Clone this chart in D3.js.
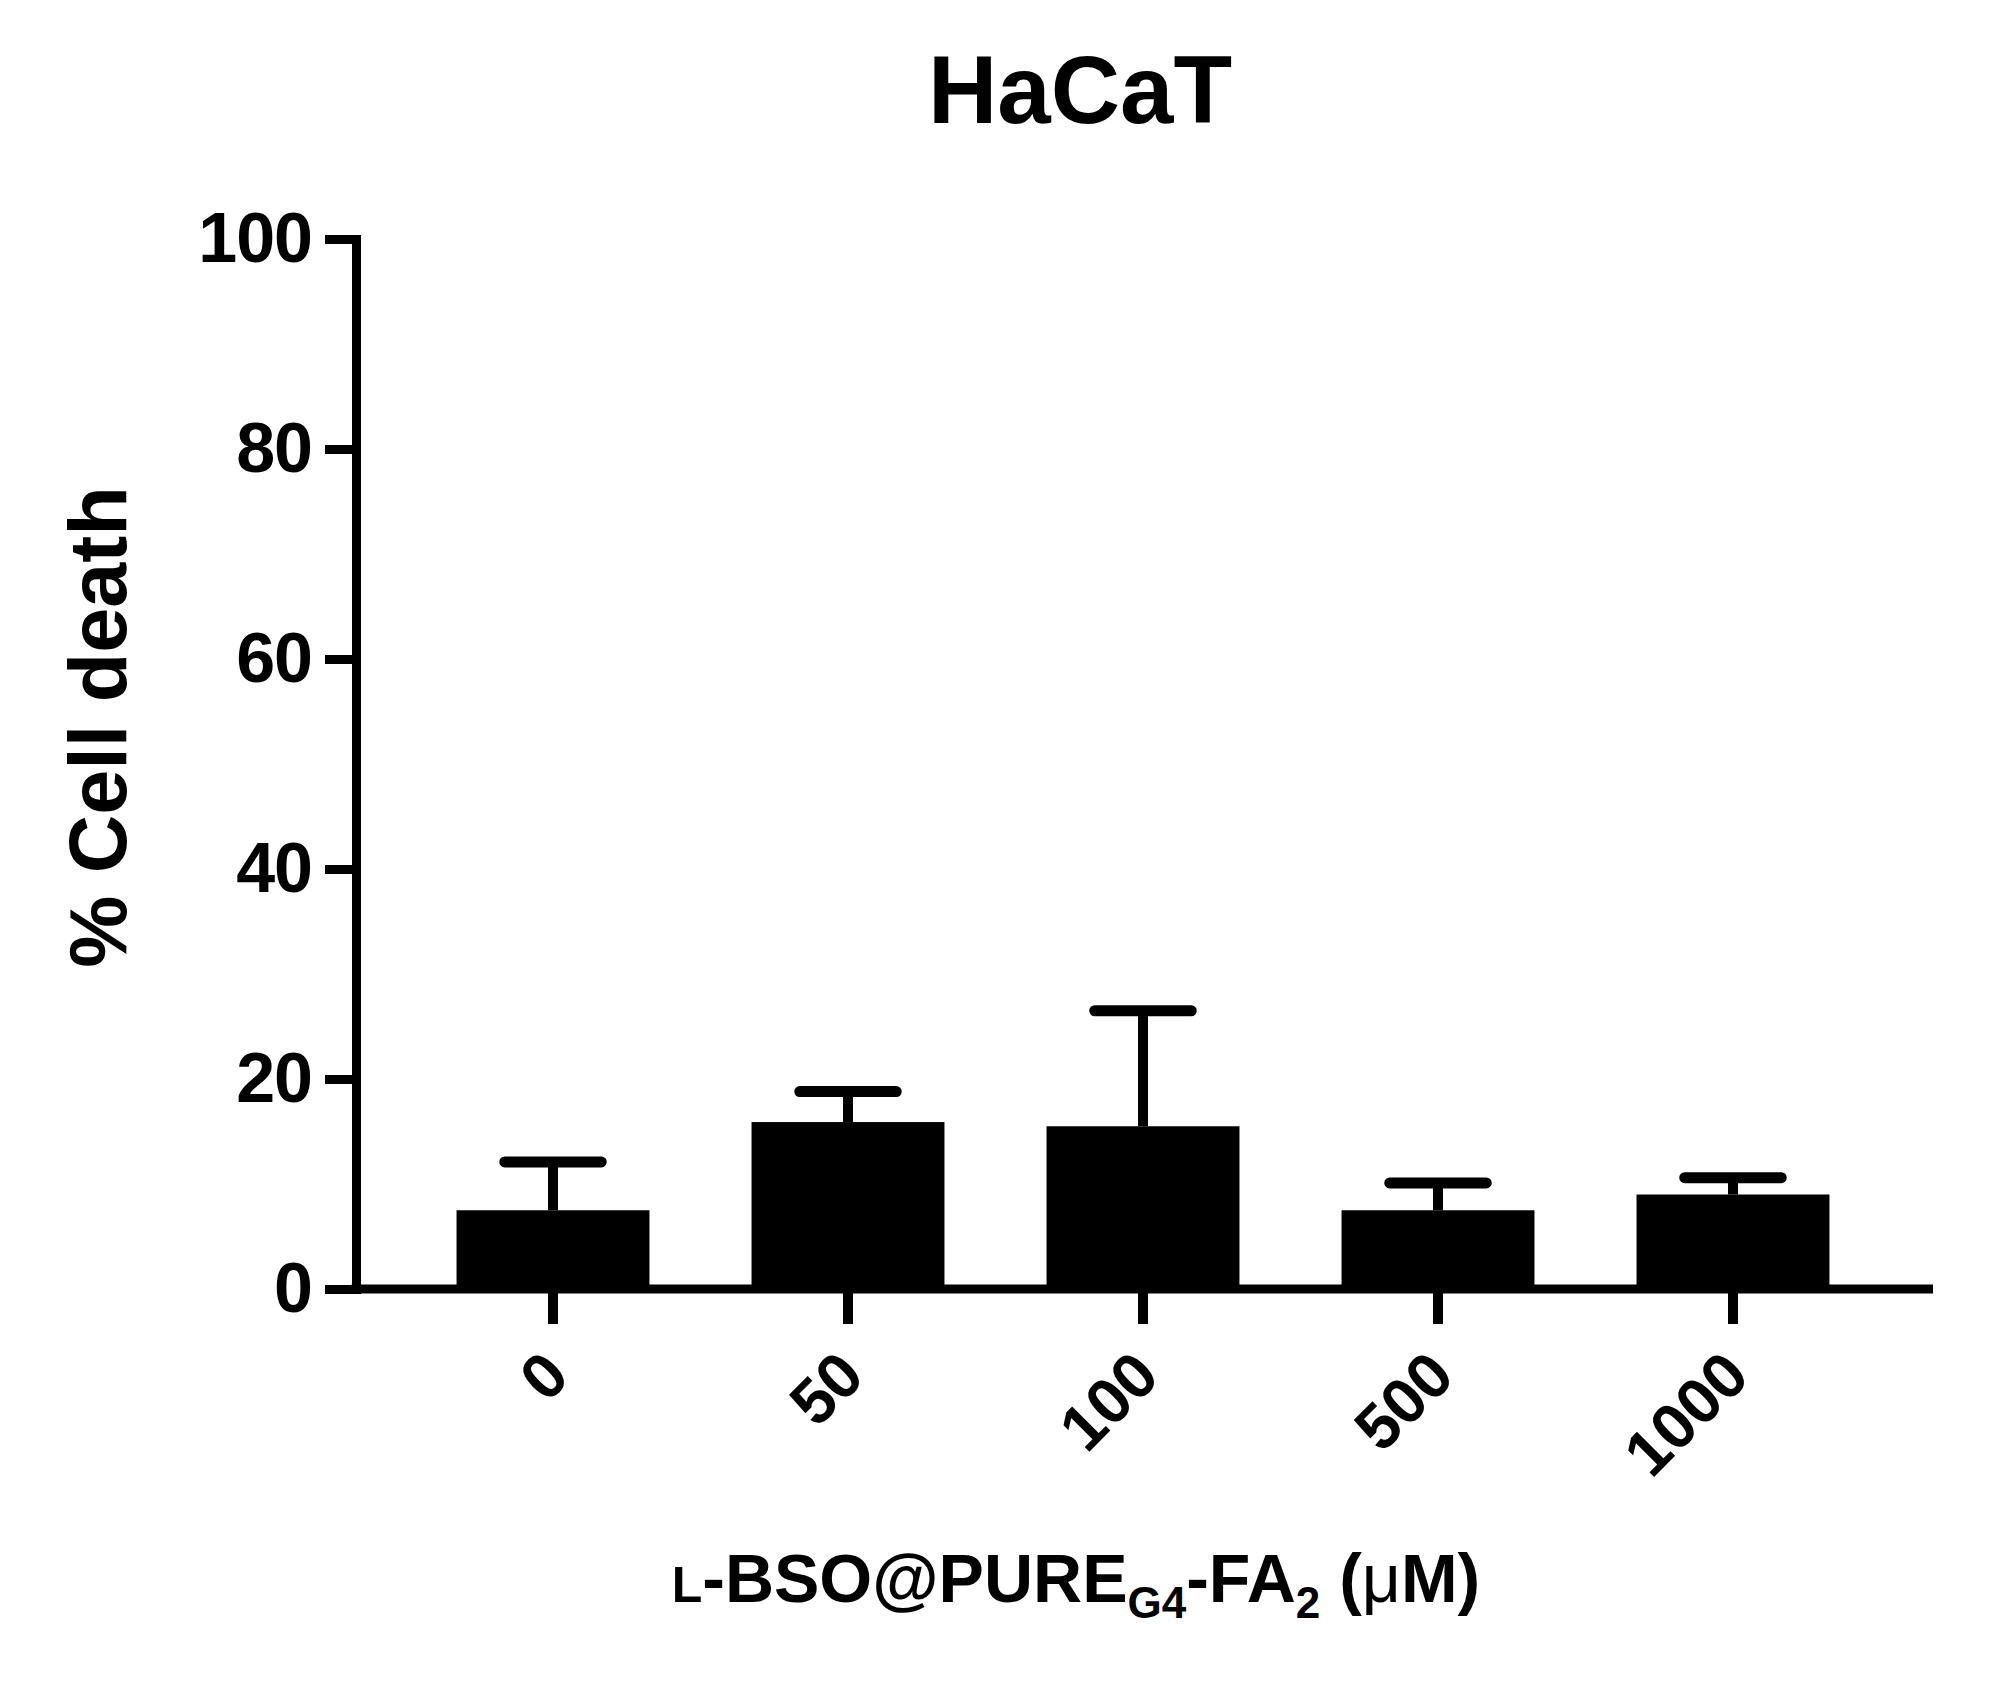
<!DOCTYPE html>
<html>
<head>
<meta charset="utf-8">
<script src="https://cdn.jsdelivr.net/npm/d3@7"></script>
<style>
  body { margin: 0; background: #fff; }
  text { font-family: "Liberation Sans", Arial, sans-serif; font-weight: bold; fill: #000; }
</style>
</head>
<body>
<div class="chart"></div>
<script>
// doses (uM) and % cell death, mean + SD
var doses = ["0", "50", "100", "500", "1000"];
var means = [7.5, 15.9, 15.5, 7.5, 9.0];
var sds = [4.6, 2.9, 11.0, 2.6, 1.6];
var yTicks = [0, 20, 40, 60, 80, 100];

var W = 1991, H = 1681;
var axisX = 356, axisRight = 1933;

var svg = d3.select(".chart")
  .append("svg")
    .attr("width", W)
    .attr("height", H);

var y = d3.scaleLinear()
  .domain([0, 100])
  .range([1289, 239]);

var x = d3.scaleBand()
  .domain(doses)
  .range([405.5, 1880.5])
  .paddingInner(0.346)
  .paddingOuter(0.173);

var data = doses.map(function(d, i) { return {dose: d, mean: means[i], sd: sds[i]}; });

// bars
svg.selectAll(".bar")
  .data(data)
  .enter().append("rect")
    .attr("class", "bar")
    .attr("x", function(d) { return x(d.dose); })
    .attr("y", function(d) { return y(d.mean); })
    .attr("width", x.bandwidth())
    .attr("height", function(d) { return y(0) - y(d.mean); })
    .attr("fill", "#000");

// error bars (upper only)
var cx = function(d) { return x(d.dose) + x.bandwidth() / 2; };
svg.selectAll(".err")
  .data(data)
  .enter().append("line")
    .attr("x1", cx).attr("x2", cx)
    .attr("y1", function(d) { return y(d.mean); })
    .attr("y2", function(d) { return y(d.mean + d.sd); })
    .attr("stroke", "#000")
    .attr("stroke-width", 10);

svg.selectAll(".cap")
  .data(data)
  .enter().append("line")
    .attr("x1", function(d) { return cx(d) - x.bandwidth() / 4; })
    .attr("x2", function(d) { return cx(d) + x.bandwidth() / 4; })
    .attr("y1", function(d) { return y(d.mean + d.sd); })
    .attr("y2", function(d) { return y(d.mean + d.sd); })
    .attr("stroke", "#000")
    .attr("stroke-width", 11)
    .attr("stroke-linecap", "round");

// y axis
var gy = svg.append("g")
  .attr("transform", "translate(" + axisX + ",0)")
  .call(d3.axisLeft(y).tickValues(yTicks).tickSize(31).tickSizeOuter(0).tickPadding(13));
gy.select(".domain").attr("stroke-width", 9).attr("stroke-linecap", "square");
gy.selectAll(".tick line").attr("stroke-width", 9);
gy.selectAll(".tick text")
  .attr("font-size", 70)
  .attr("font-family", "Liberation Sans, Arial, sans-serif")
  .attr("font-weight", "bold")
  .attr("letter-spacing", -1);

// x axis
svg.append("line")
  .attr("x1", axisX - 4.5)
  .attr("x2", axisRight)
  .attr("y1", y(0))
  .attr("y2", y(0))
  .attr("stroke", "#000")
  .attr("stroke-width", 9);

var gx = svg.append("g")
  .attr("transform", "translate(0," + y(0) + ")")
  .call(d3.axisBottom(x).tickSize(35).tickSizeOuter(0));
gx.select(".domain").remove();
gx.selectAll(".tick line").attr("stroke-width", 10);
gx.selectAll(".tick text")
  .attr("x", 0).attr("y", 0).attr("dy", 0)
  .attr("transform", "translate(19,90) rotate(-45)")
  .style("text-anchor", "end")
  .attr("font-size", 64)
  .attr("font-family", "Liberation Sans, Arial, sans-serif")
  .attr("font-weight", "bold");

// title
svg.append("text")
  .attr("x", 1080)
  .attr("y", 123)
  .attr("text-anchor", "middle")
  .attr("font-size", 96)
  .text("HaCaT");

// y label
svg.append("text")
  .attr("transform", "translate(126,727) rotate(-90)")
  .attr("text-anchor", "middle")
  .attr("font-size", 81)
  .text("% Cell death");

// x label with small L and subscripts
var xl = svg.append("text")
  .attr("x", 1076)
  .attr("y", 1602)
  .attr("text-anchor", "middle")
  .attr("font-size", 68);
xl.append("tspan").attr("font-size", 50).text("L");
xl.append("tspan").text("-BSO@PURE");
xl.append("tspan").attr("font-size", 44).attr("dy", 16).text("G4");
xl.append("tspan").attr("dy", -16).text("-FA");
xl.append("tspan").attr("font-size", 44).attr("dy", 16).text("2");
xl.append("tspan").attr("dy", -16).text(" (");
xl.append("tspan").attr("font-weight", "normal").text("\u03bc");
xl.append("tspan").text("M)");
</script>
</body>
</html>
